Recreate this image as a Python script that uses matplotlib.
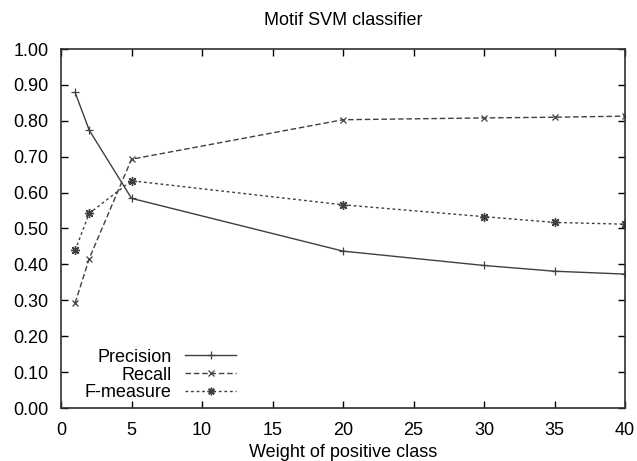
import matplotlib
matplotlib.use("Agg")
import matplotlib.pyplot as plt

plt.rcParams['font.family'] = ['Liberation Sans', 'DejaVu Sans']

weights = [1, 2, 5, 20, 30, 35, 40]
precision = [0.879, 0.774, 0.584, 0.437, 0.397, 0.381, 0.373]
recall = [0.292, 0.416, 0.693, 0.803, 0.808, 0.810, 0.813]
fmeasure = [0.439, 0.542, 0.633, 0.566, 0.533, 0.517, 0.512]

xticks = [0, 5, 10, 15, 20, 25, 30, 35, 40]
yticks = [i / 10 for i in range(11)]

fig = plt.figure(figsize=(6.37, 4.61), dpi=100)
ax = fig.add_axes([61 / 637, 1 - 408 / 461, (625 - 61) / 637, (408 - 49) / 461])

col = '#404040'
ax.plot(weights, precision, '-', color=col, lw=1.0, marker='+', ms=6, mew=0.9,
        label='Precision')
ax.plot(weights, recall, '--', dashes=(4, 2), color=col, lw=1.0, marker='x', ms=5,
        mew=0.9, label='Recall')
ax.plot(weights, fmeasure, ':', dashes=(2, 2), color=col, lw=1.0, marker=(8, 2, 0),
        ms=6.5, mew=1.0, label='F-measure')

ax.set_xlim(0, 40)
ax.set_ylim(0, 1.0)
ax.set_xticks(xticks)
ax.set_yticks(yticks)
ax.set_yticklabels([f'{v:.2f}' for v in yticks])
ax.tick_params(direction='in', length=5, width=1, top=True, right=True,
               labelsize=13, colors='black')
ax.tick_params(axis='x', pad=10)
ax.tick_params(axis='y', pad=9)
for s in ax.spines.values():
    s.set_linewidth(1.2)
    s.set_color('#303030')

ax.set_title('Motif SVM classifier', fontsize=13, pad=17)
ax.set_xlabel('Weight of positive class', fontsize=13, labelpad=4)

leg = ax.legend(loc='lower left', bbox_to_anchor=(0.02, -0.017), frameon=False,
                markerfirst=False, fontsize=13, handlelength=2.8,
                handletextpad=0.75, labelspacing=0.05, borderaxespad=0.3,
                markerscale=0.85)
for t in leg.get_texts():
    t.set_ha('right')
leg._legend_box.align = 'right'

fig.savefig('out.png', dpi=100)
